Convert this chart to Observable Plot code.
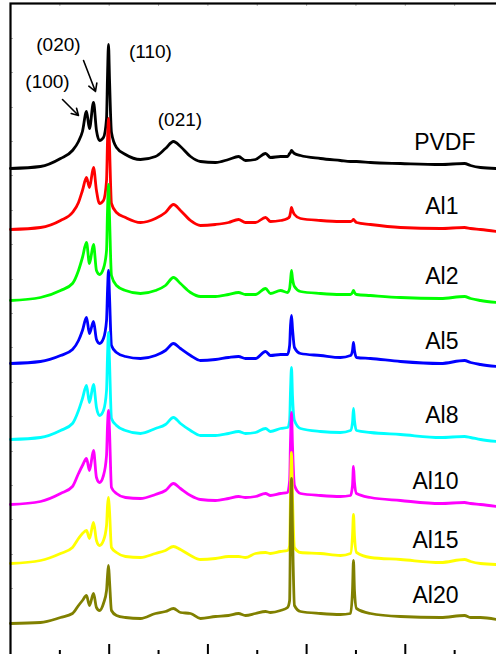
<!DOCTYPE html>
<html>
<head>
<meta charset="utf-8">
<script src="https://cdn.jsdelivr.net/npm/d3@7"></script>
<script src="https://cdn.jsdelivr.net/npm/@observablehq/plot@0.6"></script>
<style>
html, body { margin: 0; padding: 0; background: #fff; overflow: hidden; }
#chart { width: 496px; height: 654px; overflow: hidden; position: relative; }
#chart svg { display: block; max-width: none !important; width: 504px !important; height: 658px !important; }
</style>
</head>
<body>
<div id="chart"></div>
<script>
// 2θ (degrees) sampling positions
const twoTheta = [10.00,13.04,15.07,16.28,16.89,17.29,17.70,18.00,18.41,18.71,19.02,19.42,19.73,19.83,19.93,20.03,20.23,20.74,21.65,23.17,24.69,25.70,26.51,27.22,28.24,29.25,30.77,32.09,33.10,33.81,34.82,35.84,36.34,37.36,38.07,38.28,38.37,38.47,38.57,38.77,39.38,41.41,43.43,44.45,44.65,44.75,44.85,45.06,46.47,49.51,53.57,56.00,56.61,57.62,59.24];

const samples = ["PVDF", "Al1", "Al2", "Al5", "Al8", "Al10", "Al15", "Al20"];
const colors  = ["#000000", "#ff0000", "#00ff00", "#0000ff", "#00ffff", "#ff00ff", "#ffff00", "#808000"];
// vertical stacking offset of each pattern (a.u.)
const offsets = [486, 425, 354, 291, 215, 150, 91, 31];

// intensities (a.u.) relative to each pattern's own start
const PVDF = [0,2,10,18,27,37,57,40,66,38,28,31,50,93,124,90,36,21,14,9,12,20,27,22,12,7,6,9,12,8,9,15,11,12,12,15,16,18,17,15,13,10,8,7,7,7,7,7,6,5,4,5,3,1,0];
const Al1  = [0,2,9,17,27,39,52,42,62,39,26,29,49,89,111,84,26,17,12,7,11,17,25,19,9,4,5,7,10,7,7,12,8,9,11,13,17,22,19,15,11,9,8,8,9,10,9,7,5,2,1,2,1,0,-2];
const Al2  = [0,3,10,17,30,43,58,37,56,30,26,32,50,90,116,85,25,15,10,7,10,15,23,17,8,4,4,6,8,6,6,12,7,10,8,12,20,30,22,14,9,7,6,6,8,10,8,6,5,3,2,4,2,0,-2];
const Al5  = [0,2,8,14,23,33,46,30,42,24,20,25,43,73,93,68,18,11,7,5,8,13,20,15,8,3,4,6,7,5,5,12,8,9,9,18,38,48,35,16,10,8,6,8,13,21,13,6,5,2,0,3,1,-1,-3];
const Al8  = [0,2,9,16,29,41,54,37,55,32,24,29,49,84,107,79,21,14,9,6,11,15,22,16,9,4,4,6,8,6,7,11,8,11,12,19,49,72,44,19,11,8,7,9,17,31,19,9,7,5,2,3,2,0,-2];
const Al10 = [0,3,11,18,31,39,46,34,54,27,22,29,49,79,94,74,17,11,7,6,10,14,21,16,9,5,4,6,8,7,8,11,9,11,12,24,64,92,59,19,11,9,8,9,19,38,22,11,7,4,1,2,1,0,-2];
const Al15 = [0,3,10,16,25,30,33,25,41,23,18,23,38,58,66,53,16,11,7,6,10,13,17,14,8,4,5,7,7,6,10,11,10,12,13,18,73,111,68,16,11,10,8,10,28,49,28,11,6,4,1,4,2,0,-1];
const Al20 = [0,1,6,10,18,23,28,18,30,16,13,20,33,48,58,43,13,8,6,5,10,12,15,11,10,5,7,8,10,8,10,12,11,13,16,23,103,145,93,18,12,10,9,10,33,63,33,15,10,7,6,8,6,6,4];
const series = [PVDF, Al1, Al2, Al5, Al8, Al10, Al15, Al20];

// axis ticks
const majorTicks = [20, 30, 40, 50];
const minorTicks = [15, 25, 35, 45, 55];
const yTicks = [31, 66, 100, 135, 169, 203, 238, 272, 307, 341, 375, 410, 444, 479, 513, 547, 582, 616];

// peak annotations (Miller indices)
const peakNames  = ["(100)", "(020)", "(110)", "(021)"];
const peakTheta  = [13.75, 14.86, 24.18, 27.17];
const peakLevel  = [573, 610, 603, 535];
const arrowFromTheta = [15.27, 17.40];
const arrowFromLevel = [555, 594];
const arrowToTheta   = [16.89, 18.61];
const arrowToLevel   = [539, 563];

const rows = samples.flatMap((s, i) =>
  twoTheta.map((t, j) => ({sample: s, theta: t, value: offsets[i] + series[i][j]})));

const labelTheta = 53.57;
const labelIdx = twoTheta.indexOf(labelTheta);
const labels = samples.map((s, i) => ({
  sample: s,
  x: s === "PVDF" ? 57.11 : 55.39,
  y: offsets[i] + series[i][labelIdx] + 22
}));

const peaks = peakNames.map((n, i) => ({name: n, x: peakTheta[i], y: peakLevel[i]}));
const arrows = arrowFromTheta.map((t, i) => ({x1: t, y1: arrowFromLevel[i], x2: arrowToTheta[i], y2: arrowToLevel[i]}));

const W = 504, H = 658, mL = 10, mR = 0.5, mT = 3, mB = 2;
const innerW = W - mL - mR, innerH = H - mT - mB;

const chart = Plot.plot({
  width: W,
  height: H,
  marginLeft: mL,
  marginRight: mR,
  marginTop: mT,
  marginBottom: mB,
  style: {background: "#fff", fontFamily: "'Liberation Sans', Arial, sans-serif", overflow: "hidden", maxWidth: "none"},
  x: {domain: [10, 60], axis: null},
  y: {domain: [-2, 651], axis: null},
  color: {domain: samples, range: colors},
  marks: [
    Plot.tickY(yTicks, {y: d => d, insetRight: innerW - 3, stroke: "#b0b0b0", strokeWidth: 1}),
    Plot.tickX(majorTicks.concat(minorTicks), {x: d => d, insetBottom: innerH - 3, stroke: "#b0b0b0", strokeWidth: 1}),
    Plot.line(rows, {x: "theta", y: "value", z: "sample", stroke: "sample", strokeWidth: 2.8, strokeLinejoin: "round", curve: "monotone-x"}),
    Plot.tickX(majorTicks, {x: d => d, insetTop: innerH - 12, stroke: "#000", strokeWidth: 2}),
    Plot.tickX(minorTicks, {x: d => d, insetTop: innerH - 6, stroke: "#000", strokeWidth: 2}),
    Plot.frame({stroke: "#000", strokeWidth: 2.2}),
    Plot.text(labels, {x: "x", y: "y", text: "sample", textAnchor: "end", fontSize: 23, fill: "#000"}),
    Plot.text(peaks, {x: "x", y: "y", text: "name", fontSize: 19, fill: "#000"}),
    Plot.arrow(arrows, {x1: "x1", y1: "y1", x2: "x2", y2: "y2", stroke: "#000", strokeWidth: 1.6, headLength: 8})
  ]
});
document.getElementById("chart").appendChild(chart);
</script>
</body>
</html>
